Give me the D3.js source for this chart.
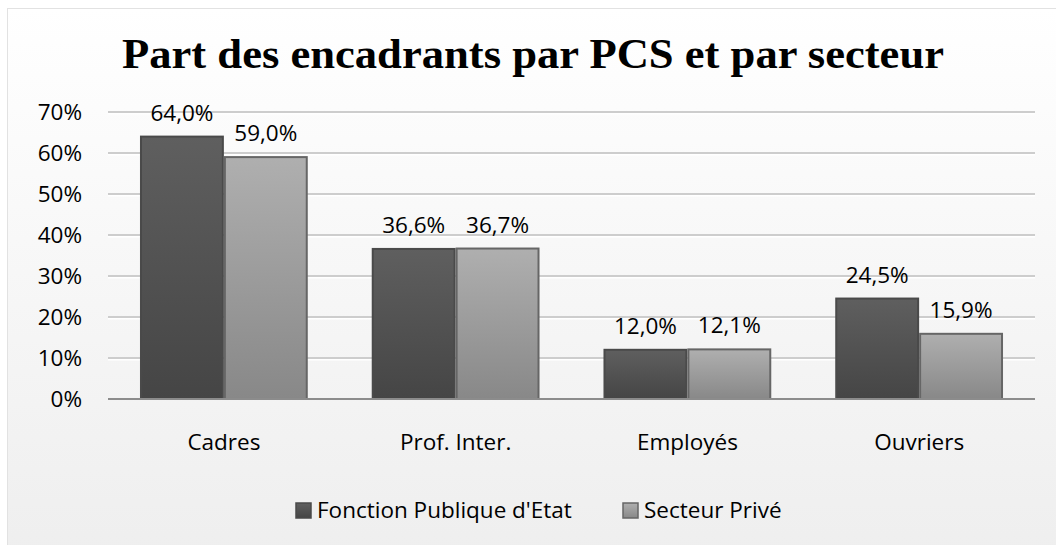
<!DOCTYPE html>
<html lang="fr">
<head>
<meta charset="UTF-8">
<title>Part des encadrants par PCS et par secteur</title>
<script src="https://d3js.org/d3.v7.min.js"></script>
<style>
  body { margin: 0; background: #fff; }
  text { font-family: "Open Sans", "Noto Sans", sans-serif; fill: #000; }
</style>
</head>
<body>
<svg></svg>
<script>
const categories = ["Cadres", "Prof. Inter.", "Employés", "Ouvriers"];
const seriesNames = ["Fonction Publique d'Etat", "Secteur Privé"];
const fonctionPublique = [64.0, 36.6, 12.0, 24.5];
const secteurPrive = [59.0, 36.7, 12.1, 15.9];
const yTicks = [0, 10, 20, 30, 40, 50, 60, 70];

const width = 1056, height = 545;
const margin = {left: 108, right: 21, top: 112, bottom: 146};
const fontSize = "22.5px";

const svg = d3.select("svg").attr("width", width).attr("height", height);

const defs = svg.append("defs");
const bg = defs.append("linearGradient").attr("id", "bg").attr("x1", 0).attr("x2", 0).attr("y1", 0).attr("y2", 1);
bg.append("stop").attr("offset", "0%").attr("stop-color", "#ffffff");
bg.append("stop").attr("offset", "100%").attr("stop-color", "#eeeeee");

const grads = [["#5f5f5f", "#454545"], ["#afafaf", "#888888"]];
grads.forEach((g, i) => {
    const lg = defs.append("linearGradient").attr("id", "bar" + i)
        .attr("x1", 0).attr("x2", 0).attr("y1", 0).attr("y2", 1);
    lg.append("stop").attr("offset", "0%").attr("stop-color", g[0]);
    lg.append("stop").attr("offset", "100%").attr("stop-color", g[1]);
});
const strokes = ["#4a4a4a", "#666666"];

// chart background and border
svg.append("rect").attr("x", 7.5).attr("y", 8.5).attr("width", 1060).attr("height", 560)
    .attr("fill", "url(#bg)").attr("stroke", "#e2e2e2");

svg.append("text")
    .attr("x", 533).attr("y", 68)
    .attr("text-anchor", "middle")
    .style("font-family", "'Liberation Serif', 'DejaVu Serif', serif")
    .style("font-weight", "bold")
    .style("font-size", "43px")
    .attr("textLength", 822).attr("lengthAdjust", "spacingAndGlyphs")
    .text("Part des encadrants par PCS et par secteur");

const x0 = d3.scaleBand().domain(categories)
    .range([margin.left, width - margin.right]).paddingInner(0.276).paddingOuter(0.138);
const x1 = d3.scaleBand().domain([0, 1]).range([0, x0.bandwidth()]);
const y = d3.scaleLinear().domain([0, 70]).range([height - margin.bottom, margin.top]);

// gridlines
const grid = svg.append("g");
yTicks.filter(t => t > 0).forEach(t => {
    grid.append("line").attr("x1", margin.left).attr("x2", width - margin.right)
        .attr("y1", y(t) + 1.5).attr("y2", y(t) + 1.5).attr("stroke", "#ffffff").attr("stroke-width", 2);
    grid.append("line").attr("x1", margin.left).attr("x2", width - margin.right)
        .attr("y1", y(t)).attr("y2", y(t)).attr("stroke", "#cdcdcd").attr("stroke-width", 2);
});

// y axis labels
const yAxis = d3.axisLeft(y).tickValues(yTicks).tickSize(0).tickPadding(26).tickFormat(d => d + "%");
svg.append("g").attr("transform", `translate(${margin.left},0)`).call(yAxis)
    .call(g => g.select(".domain").remove())
    .selectAll("text").style("font-size", fontSize).attr("dy", "0.35em");

// bars
const data = categories.map((c, i) => ({cat: c, vals: [fonctionPublique[i], secteurPrive[i]]}));
const groups = svg.append("g").selectAll("g").data(data).join("g")
    .attr("transform", d => `translate(${x0(d.cat)},0)`);

groups.selectAll("rect").data(d => d.vals.map((v, k) => ({v, k}))).join("rect")
    .attr("x", d => x1(d.k) + 1)
    .attr("y", d => y(d.v))
    .attr("width", x1.bandwidth() - 2)
    .attr("height", d => y(0) - y(d.v))
    .attr("fill", d => `url(#bar${d.k})`)
    .attr("stroke", d => strokes[d.k]).attr("stroke-width", 2);

groups.selectAll("text.val").data(d => d.vals.map((v, k) => ({v, k}))).join("text")
    .attr("class", "val")
    .attr("x", d => x1(d.k) + x1.bandwidth() / 2)
    .attr("y", d => y(d.v) - 16)
    .attr("text-anchor", "middle")
    .style("font-size", fontSize)
    .text(d => d.v.toFixed(1).replace(".", ",") + "%");

// x axis
const xAxis = d3.axisBottom(x0).tickSize(0).tickPadding(35);
svg.append("g").attr("transform", `translate(0,${y(0)})`).call(xAxis)
    .call(g => g.select(".domain").attr("stroke", "#8c8c8c").attr("stroke-width", 2)
        .attr("d", `M${margin.left},0H${width - margin.right}`))
    .selectAll("text").style("font-size", fontSize);

// legend
const legend = svg.append("g");
const legendX = [295, 622];
seriesNames.forEach((s, k) => {
    legend.append("rect").attr("x", legendX[k] + 1).attr("y", 503).attr("width", 15).attr("height", 15)
        .attr("fill", `url(#bar${k})`).attr("stroke", strokes[k]).attr("stroke-width", 1.5);
    legend.append("text").attr("x", legendX[k] + 22).attr("y", 518)
        .style("font-size", fontSize).text(s);
});
</script>
</body>
</html>
